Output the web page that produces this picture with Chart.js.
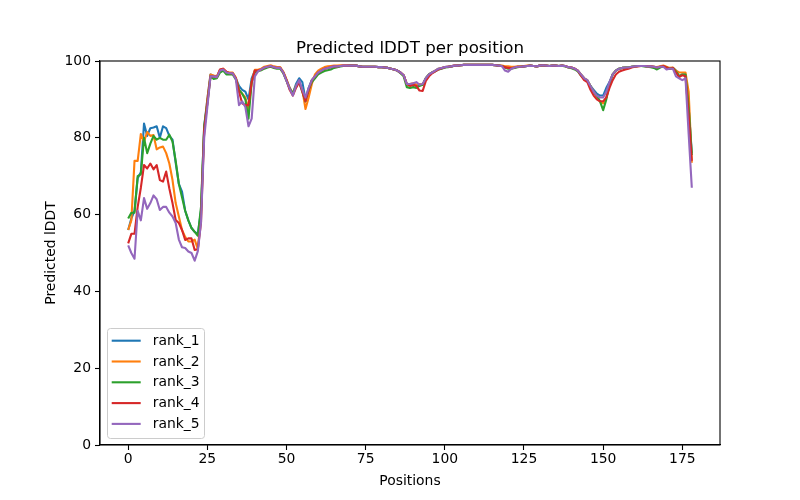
<!DOCTYPE html>
<html><head><meta charset="utf-8">
<script src="https://cdn.jsdelivr.net/npm/chart.js@4"></script>
<style>html,body{margin:0;padding:0;background:#fff}canvas{display:block}</style>
</head><body>
<canvas id="c" width="800" height="500"></canvas>
<script>
const chartTitle = 'Predicted lDDT per position';
const xTitle = 'Positions';
const yTitle = 'Predicted lDDT';
const seriesNames = ['rank_1','rank_2','rank_3','rank_4','rank_5'];
const seriesColors = ['#1f77b4','#ff7f0e','#2ca02c','#d62728','#9467bd'];
const xTicks = [0,25,50,75,100,125,150,175];
const yTicks = [0,20,40,60,80,100];

const rank1 = [56,59,61,69.5,71,83.7,80.5,82.5,82.7,83,80,83,82.5,80.5,79.5,73.5,68,66,61,58.5,56.5,55.5,55,61,83,
90,96.5,96,95.8,97.5,97.8,97,96.8,96.8,95.5,
93.5,92.5,92,90,95.5,
97.5,97.5,97.8,98.3,98.5,98.7,98.4,98.2,98.2,97,95,93,
91.5,94,95.5,94.5,90,93,
95,96,97,97.5,98,98.2,98.4,98.6,98.6,98.7,98.8,98.8,98.8,98.8,98.8,98.6,98.5,98.5,98.5,98.5,98.5,98.4,98.4,98.3,98.2,98,97.8,97.5,97,96.3,
94,93.8,94,93.5,93.8,93.8,95.5,96.5,97,97.5,98,98.2,98.4,98.5,98.6,98.8,98.8,98.9,
99,99,99,99,99,99,99,99,99,99,98.9,98.8,98.7,
98.4,98.2,98.1,98.3,98.5,98.5,98.6,98.7,98.8,98.7,98.6,98.8,98.9,98.8,98.7,98.8,98.8,98.7,98.8,98.7,98.4,98.3,98,97.5,96.5,95.5,95,
93.5,92.5,91.5,91,91,93,
94.5,96.5,97.5,98,98.2,98.3,98.3,98.5,98.6,98.7,98.7,98.7,98.6,98.6,98.5,98.3,98.5,98.7,98.3,98,98.2,97.5,96,96.5,96.5,88,76];

const rank2 = [56,58.5,74,74,81,79,81.5,80.5,80.7,77,77.5,77.7,76,73.3,69,63,59.5,56,54.2,53,53,53.5,51,60,82,
90,96.5,96.2,96,97.7,98,97.2,97,97,95.7,
92.5,91.5,90.5,87.5,94.5,
97.7,97.7,98,98.5,98.7,98.9,98.6,98.4,98.4,97.2,95.2,93,
91.5,93.5,94.5,92.5,87.5,90.5,
94,96.5,97.5,98,98.4,98.6,98.7,98.8,98.8,98.9,98.9,98.9,98.9,98.9,98.8,98.6,98.5,98.5,98.5,98.5,98.5,98.4,98.4,98.3,98.2,98,97.8,97.5,97,96.3,
94,94,94.2,93.8,94,93.8,95.5,96.5,97,97.5,98,98.2,98.4,98.5,98.6,98.8,98.8,98.9,
99,99,99,99,99,99,99,99,99,99,98.9,98.8,98.8,
98.6,98.6,98.5,98.5,98.6,98.6,98.7,98.8,98.8,98.7,98.6,98.8,98.9,98.8,98.7,98.8,98.8,98.7,98.8,98.7,98.4,98.3,98,97.5,96.5,95.5,95,
93.5,92,90.5,89.5,89,90.5,
94,96.5,97.5,98,98.2,98.3,98.3,98.5,98.6,98.7,98.7,98.7,98.6,98.6,98.5,98.4,98.6,98.8,98.5,98.2,98.3,97.5,97,97,97,92,73.5];

const rank3 = [59,60.5,60.5,70,70.5,80,76,78.5,80.5,79.5,80,79.5,79.5,80.8,79,74,68,64.5,61,58.5,56.5,55.5,54.5,62,83,
89,96,95.3,95.5,97,97.5,96.5,96.5,96.5,95.2,
92.5,91.5,90,85,94.5,
97,97.3,97.6,98,98.3,98.5,98.2,98,98,96.8,94.8,92.8,
91.5,93.5,94.5,92,89.5,92.5,
94.5,95.5,96.5,97,97.4,97.6,97.8,98.2,98.4,98.6,98.7,98.7,98.8,98.8,98.8,98.6,98.5,98.5,98.5,98.5,98.5,98.4,98.4,98.3,98.2,98,97.8,97.5,96.8,96,
93.2,93,93.2,93,93.5,93.8,95.5,96.5,97,97.3,97.8,98,98.3,98.4,98.6,98.7,98.8,98.9,
99,99,99,99,99,99,99,99,99,99,98.9,98.8,98.7,
98.3,98,98,98.2,98.4,98.5,98.6,98.7,98.8,98.7,98.6,98.8,98.9,98.8,98.7,98.8,98.8,98.7,98.8,98.6,98.3,98.1,97.8,97.3,96.2,95.3,94.8,
93.5,92,91,89.5,87.2,90,
94,96.5,97.5,98,98.2,98.3,98.3,98.5,98.6,98.7,98.7,98.6,98.5,98.4,98.2,97.8,98.3,98.6,98.3,98,98.2,97.3,96,96.5,96.5,88,75.5];

const rank4 = [52.5,55,55,62,67,72.9,72,73.3,71.8,72.9,69,68.6,71.2,66.8,63,58.6,57.8,56,53.4,53.8,53.8,50.8,51,58,82,
89,96,96,95.8,97.8,98,97.2,96.8,96.8,95.5,
92,89,88.5,88.5,94.5,
97.5,97.5,97.8,98.3,98.5,98.7,98.4,98.2,98.2,97,95,92.5,
91,93,94.5,92,89.5,92.5,
95,96,97,97.5,98,98.2,98.4,98.6,98.6,98.7,98.8,98.8,98.8,98.8,98.8,98.6,98.5,98.5,98.5,98.5,98.5,98.4,98.4,98.3,98.2,98,97.8,97.5,97,96.3,
94,93.5,93.8,93.5,92.3,92.2,94.8,96,96.8,97.3,97.8,98.1,98.4,98.5,98.6,98.8,98.8,98.9,
99,99,99,99,99,99,99,99,99,99,98.9,98.8,98.7,
98.4,98.2,98.1,98.3,98.5,98.5,98.6,98.7,98.8,98.7,98.6,98.8,98.9,98.8,98.7,98.8,98.8,98.7,98.8,98.7,98.4,98.3,98,97.5,96.2,95,94.5,
92.5,91,90,89.5,89.5,90.5,
93,95,96.5,97.2,97.5,97.8,98,98.3,98.5,98.6,98.7,98.7,98.6,98.6,98.5,98.3,98.5,98.7,98.3,98,98.2,97,95.8,96.3,96,86,74];

const rank5 = [52,50,48.5,61,58.5,64.3,61.5,63,65,64,61.2,62,62,60.5,59.5,57.8,53.5,51.5,51.3,50.4,50,48,50.5,58,80,
88,96,96,95.8,97.5,97.8,97,96.8,96.8,95.3,
88.5,89.5,88,83,85,
96,97.3,97.8,98.3,98.5,98.7,98.4,98.2,98.2,97,94.8,92.8,
91,93.5,95,92.5,90.5,93,
95,96,97,97.5,98,98.2,98.4,98.6,98.6,98.7,98.8,98.8,98.8,98.8,98.8,98.6,98.5,98.5,98.5,98.5,98.5,98.4,98.4,98.3,98.2,98,97.8,97.5,97,96.3,
94,94,94.2,94.5,93.8,94,95.5,96.5,97,97.5,98,98.2,98.4,98.5,98.6,98.8,98.8,98.9,
99,99,99,99,99,99,99,99,99,99,98.9,98.8,98.7,
97.5,97.2,98,98.3,98.5,98.5,98.6,98.7,98.8,98.7,98.6,98.8,98.9,98.8,98.7,98.8,98.8,98.7,98.8,98.7,98.4,98.3,98,97.5,96.5,95.5,95,
93.5,92,91,90.5,90.5,92,
94.5,96.5,97.5,98,98.2,98.3,98.3,98.5,98.6,98.7,98.7,98.7,98.6,98.6,98.5,98.3,98.5,98.5,97.8,98,98,96,95.5,95,95.5,81,67];

const allSeries = [rank1, rank2, rank3, rank4, rank5];
const positions = rank1.map((_, i) => i);

const FONT = 'DejaVu Sans';
const datasets = allSeries.map((vals, k) => ({
  label: seriesNames[k],
  data: vals.map((v, i) => ({x: positions[i], y: v})),
  borderColor: seriesColors[k],
  backgroundColor: seriesColors[k],
  borderWidth: 2.1,
  pointRadius: 0,
  tension: 0,
  fill: false,
  order: seriesNames.length - 1 - k,
  borderJoinStyle: 'round',
  borderCapStyle: 'butt'
}));

const decor = {
  id: 'decor',
  afterDraw(chart) {
    const ctx = chart.ctx;
    const a = chart.chartArea;
    ctx.save();
    ctx.strokeStyle = '#000';
    ctx.lineWidth = 1.1;
    ctx.strokeRect(a.left, a.top, a.right - a.left, a.bottom - a.top);
    ctx.fillStyle = '#000';
    ctx.textAlign = 'center';
    ctx.textBaseline = 'alphabetic';
    ctx.font = '16.67px "' + FONT + '"';
    ctx.fillText(chartTitle, (a.left + a.right) / 2, a.top - 8.5);
    ctx.font = '13.9px "' + FONT + '"';
    ctx.fillText(xTitle, (a.left + a.right) / 2, 484.5);
    ctx.save();
    ctx.translate(55, (a.top + a.bottom) / 2);
    ctx.rotate(-Math.PI / 2);
    ctx.fillText(yTitle, 0, 0);
    ctx.restore();
    // legend
    const lx = 107.5, ly = 328.5, lw = 97, lh = 110;
    ctx.beginPath();
    ctx.roundRect(lx, ly, lw, lh, 3);
    ctx.fillStyle = 'rgba(255,255,255,0.8)';
    ctx.fill();
    ctx.strokeStyle = '#cccccc';
    ctx.lineWidth = 1;
    ctx.stroke();
    ctx.textAlign = 'left';
    ctx.textBaseline = 'middle';
    seriesNames.forEach((name, k) => {
      const y = 340.7 + 20.8 * k;
      ctx.beginPath();
      ctx.moveTo(111.7, y);
      ctx.lineTo(140.7, y);
      ctx.strokeStyle = seriesColors[k];
      ctx.lineWidth = 2.1;
      ctx.stroke();
      ctx.fillStyle = '#000';
      ctx.fillText(name, 152.7, y + 0.5);
    });
    ctx.restore();
  }
};

new Chart(document.getElementById('c').getContext('2d'), {
  type: 'line',
  data: {datasets},
  options: {
    responsive: false,
    animation: false,
    devicePixelRatio: 1,
    layout: {padding: {top: 61, right: 80, left: 0, bottom: 0}},
    plugins: {legend: {display: false}, title: {display: false}, tooltip: {enabled: false}},
    scales: {
      x: {
        type: 'linear', min: -8.9, max: 186.9,
        afterBuildTicks: s => { s.ticks = xTicks.map(v => ({value: v})); },
        afterFit: s => { s.height = 55; },
        grid: {drawOnChartArea: false, drawTicks: true, tickLength: 5, tickColor: '#000', tickWidth: 1.1},
        border: {display: true, color: '#000', width: 1.1},
        ticks: {color: '#000', font: {family: FONT, size: 13.9}, padding: 1, maxRotation: 0, autoSkip: false}
      },
      y: {
        min: 0, max: 100,
        afterBuildTicks: s => { s.ticks = yTicks.map(v => ({value: v})); },
        afterFit: s => { s.width = 100; },
        grid: {drawOnChartArea: false, drawTicks: true, tickLength: 5, tickColor: '#000', tickWidth: 1.1},
        border: {display: true, color: '#000', width: 1.1},
        ticks: {color: '#000', font: {family: FONT, size: 13.9}, padding: 4, autoSkip: false}
      }
    }
  },
  plugins: [decor]
});
</script>
</body></html>
